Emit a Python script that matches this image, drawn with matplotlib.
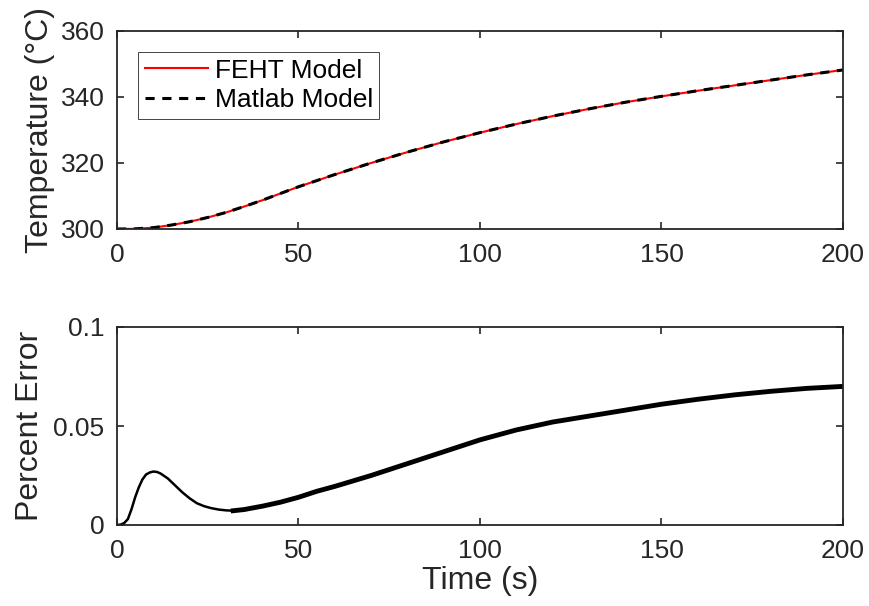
import matplotlib.pyplot as plt

# Data
time_temp = [0, 5, 10, 15, 20, 25, 30, 35, 40, 50, 60, 70, 80, 90, 100,
             110, 120, 130, 140, 150, 160, 170, 180, 190, 200]
temp_feht = [300.0, 300.05, 300.4, 301.2, 302.2, 303.5, 305.0, 306.8, 308.7,
             312.8, 316.5, 320.0, 323.3, 326.4, 329.2, 331.8, 334.2, 336.4,
             338.4, 340.2, 341.9, 343.5, 345.1, 346.7, 348.2]
temp_matlab = [300.0, 300.05, 300.4, 301.2, 302.2, 303.5, 305.0, 306.8, 308.7,
               312.8, 316.5, 320.0, 323.3, 326.4, 329.2, 331.8, 334.2, 336.4,
               338.4, 340.2, 341.9, 343.5, 345.1, 346.7, 348.2]

time_err = [0, 1, 2, 3, 4, 5, 6, 7, 8, 9, 10, 11, 12, 14, 16, 18, 20, 22, 24,
            26, 28, 30, 32, 35, 40, 45, 50, 55, 60, 70, 80, 90, 100, 110, 120,
            130, 140, 150, 160, 170, 180, 190, 200]
pct_err = [0, 0.0002, 0.001, 0.003, 0.008, 0.014, 0.019, 0.023, 0.0255,
           0.0265, 0.027, 0.0268, 0.026, 0.0235, 0.020, 0.0165, 0.0135, 0.011,
           0.0095, 0.0085, 0.0078, 0.0074, 0.0072, 0.0078, 0.0095, 0.0115,
           0.014, 0.017, 0.0195, 0.025, 0.031, 0.037, 0.043, 0.048, 0.052,
           0.055, 0.058, 0.061, 0.0635, 0.0657, 0.0675, 0.069, 0.070]

plt.rcParams['font.family'] = ['Liberation Sans', 'DejaVu Sans']
fs = 19
fl = 23
dark = '#262626'

fig = plt.figure(figsize=(8.7, 6.06), dpi=100)
ax1 = fig.add_axes([117 / 870, 1 - 229 / 606, 726 / 870, 198 / 606])
ax2 = fig.add_axes([117 / 870, 1 - 525 / 606, 726 / 870, 198 / 606])

# Top: temperature
ax1.plot(time_temp, temp_feht, color='red', lw=1.5, label='FEHT Model')
ax1.plot(time_temp, temp_matlab, color='black', lw=2.2, ls=(0, (3, 2.5)),
         label='Matlab Model')
ax1.set_xlim(0, 200)
ax1.set_ylim(300, 360)
ax1.set_xticks([0, 50, 100, 150, 200])
ax1.set_yticks([300, 320, 340, 360])
ax1.set_ylabel('Temperature (°C)', fontsize=fl, color=dark, labelpad=4)
leg = ax1.legend(loc='upper left', bbox_to_anchor=(21 / 726, 1 - 21 / 198),
                 borderaxespad=0, fontsize=fs, fancybox=False, framealpha=1,
                 edgecolor=dark, handlelength=2.4, handletextpad=0.25,
                 labelspacing=0.22, borderpad=0.25)
leg.get_frame().set_linewidth(0.6)

# Bottom: percent error
ax2.plot(time_err, pct_err, color='black', lw=1.8)
i0 = time_err.index(32)
ax2.plot(time_err[i0:], pct_err[i0:], color='black', lw=3.5)
ax2.set_xlim(0, 200)
ax2.set_ylim(0, 0.1)
ax2.set_xticks([0, 50, 100, 150, 200])
ax2.set_yticks([0, 0.05, 0.1])
ax2.set_yticklabels(['0', '0.05', '0.1'])
ax2.set_ylabel('Percent Error', fontsize=fl, color=dark, labelpad=6)
ax2.set_xlabel('Time (s)', fontsize=fl, color=dark, labelpad=2)

for ax in (ax1, ax2):
    ax.tick_params(direction='in', top=True, right=True, labelsize=fs,
                   colors=dark, length=5, width=1.2)
    ax.tick_params(axis='y', pad=9)
    ax.tick_params(axis='x', pad=10)
    for s in ax.spines.values():
        s.set_color(dark)
        s.set_linewidth(1.3)

fig.savefig('out.png', dpi=100)
